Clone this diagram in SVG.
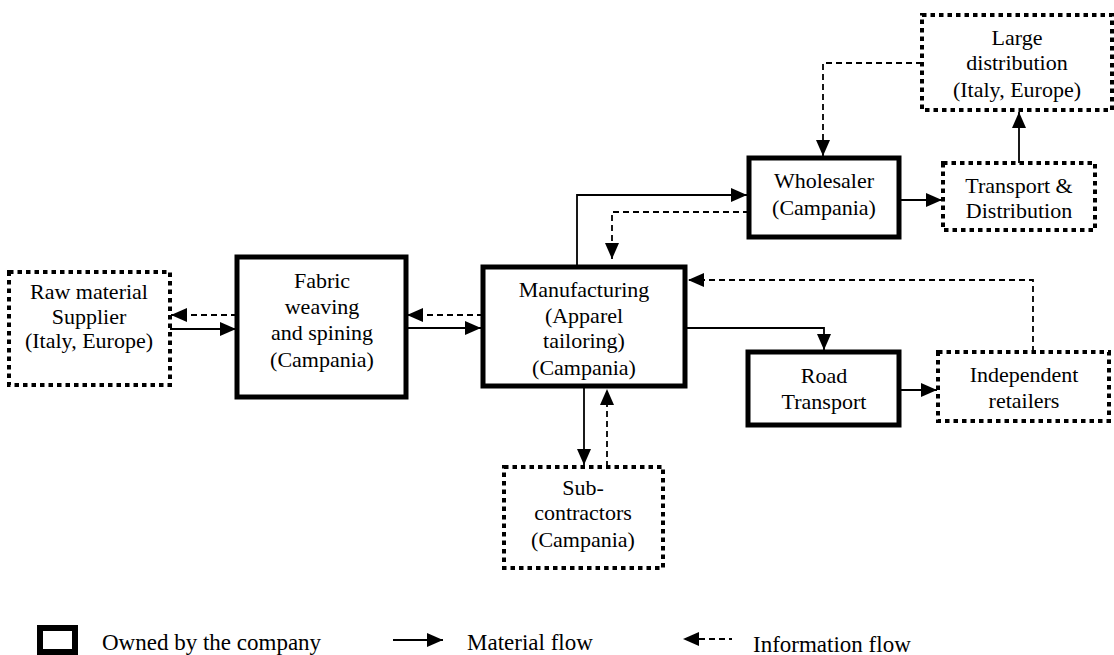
<svg xmlns="http://www.w3.org/2000/svg" width="1114" height="655" viewBox="0 0 1114 655">
<style>
.own{fill:#fff;stroke:#000;stroke-width:5}
.ext{fill:#fff;stroke:#000;stroke-width:4;stroke-dasharray:4.5 4}
.t{font-family:'Liberation Serif','Times New Roman',serif;font-size:22px;fill:#000;text-anchor:middle}
.lg{font-family:'Liberation Serif','Times New Roman',serif;font-size:23px;fill:#000;text-anchor:start}
.mat{fill:none;stroke:#000;stroke-width:1.8;marker-end:url(#ah)}
.inf{fill:none;stroke:#000;stroke-width:1.8;stroke-dasharray:6 4;marker-end:url(#ah)}
</style>
<defs>
<marker id="ah" markerUnits="userSpaceOnUse" markerWidth="17" markerHeight="14" refX="16" refY="7" orient="auto">
<path d="M0,0 L16,7 L0,14 z" fill="#000"/>
</marker>
</defs>
<rect width="1114" height="655" fill="#fff"/>

<g id="connectors">
<path class="inf" d="M237,315 H171"/>
<path class="mat" d="M170,329 H236"/>
<path class="inf" d="M483,315 H407"/>
<path class="mat" d="M406,328 H481"/>
<path class="mat" d="M577,267 V195 H747"/>
<path class="inf" d="M749,212 H612 V259"/>
<path class="inf" d="M1033,352 V280 H688"/>
<path class="mat" d="M685,328 H824 V350"/>
<path class="mat" d="M899,390 H937"/>
<path class="mat" d="M584,388 V465"/>
<path class="inf" d="M607,467 V389"/>
<path class="mat" d="M899,200 H942"/>
<path class="mat" d="M1019,163 V112"/>
<path class="inf" d="M922,63 H823 V156"/>
</g>

<g id="raw" class="t" font-family="Liberation Serif, serif">
<rect class="ext" x="9" y="272" width="161" height="113"/>
<text x="89" y="299">Raw material</text>
<text x="89" y="324">Supplier</text>
<text x="89" y="348">(Italy, Europe)</text>
</g>

<g id="fabric" class="t" font-family="Liberation Serif, serif">
<rect class="own" x="237" y="257" width="169" height="140"/>
<text x="322" y="288">Fabric</text>
<text x="322" y="314">weaving</text>
<text x="322" y="340">and spining</text>
<text x="322" y="367">(Campania)</text>
</g>

<g id="manufacturing" class="t" font-family="Liberation Serif, serif">
<rect class="own" x="483" y="267" width="202" height="119"/>
<text x="584" y="297">Manufacturing</text>
<text x="584" y="323">(Apparel</text>
<text x="584" y="348">tailoring)</text>
<text x="584" y="375">(Campania)</text>
</g>

<g id="subcontractors" class="t" font-family="Liberation Serif, serif">
<rect class="ext" x="504" y="467" width="159" height="101"/>
<text x="583" y="495">Sub-</text>
<text x="583" y="520">contractors</text>
<text x="583" y="547">(Campania)</text>
</g>

<g id="wholesaler" class="t" font-family="Liberation Serif, serif">
<rect class="own" x="749" y="158" width="150" height="79"/>
<text x="824" y="188">Wholesaler</text>
<text x="824" y="215">(Campania)</text>
</g>

<g id="transport" class="t" font-family="Liberation Serif, serif">
<rect class="ext" x="943" y="163" width="152" height="67"/>
<text x="1019" y="193">Transport &amp;</text>
<text x="1019" y="218">Distribution</text>
</g>

<g id="large" class="t" font-family="Liberation Serif, serif">
<rect class="ext" x="922" y="15" width="190" height="95"/>
<text x="1017" y="45">Large</text>
<text x="1017" y="70">distribution</text>
<text x="1017" y="97">(Italy, Europe)</text>
</g>

<g id="road" class="t" font-family="Liberation Serif, serif">
<rect class="own" x="748" y="352" width="151" height="73"/>
<text x="824" y="383">Road</text>
<text x="824" y="409">Transport</text>
</g>

<g id="retailers" class="t" font-family="Liberation Serif, serif">
<rect class="ext" x="938" y="352" width="171" height="69"/>
<text x="1024" y="382">Independent</text>
<text x="1024" y="408">retailers</text>
</g>

<g id="legend" class="lg" font-family="Liberation Serif, serif">
<rect x="40" y="628" width="35" height="24" fill="#fff" stroke="#000" stroke-width="6"/>
<text x="102" y="650">Owned by the company</text>
<path class="mat" d="M393,640 H443"/>
<text x="467" y="650">Material flow</text>
<path d="M683,639 L699,632 L699,646 z" fill="#000"/>
<path d="M699,639 H732" stroke="#000" stroke-width="1.8" stroke-dasharray="6 4" fill="none"/>
<text x="753" y="652">Information flow</text>
</g>
</svg>
